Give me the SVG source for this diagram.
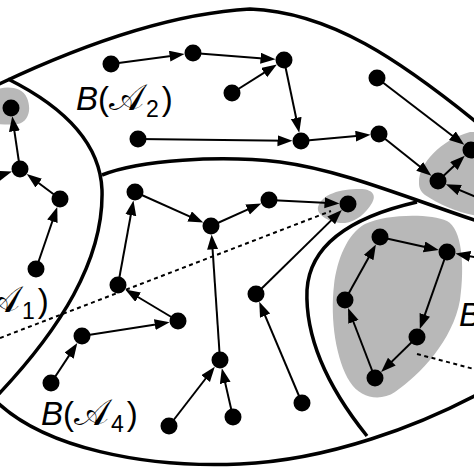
<svg xmlns="http://www.w3.org/2000/svg" width="474" height="474" viewBox="0 0 474 474">
<defs>
<marker id="ah" markerUnits="userSpaceOnUse" markerWidth="16" markerHeight="12" refX="9" refY="5.5" orient="auto">
<path d="M0,0 L15,5.5 L0,11 Z" fill="#000"/>
</marker>
<style>
.edge{stroke:#000;stroke-width:2;fill:none;marker-end:url(#ah)}
.bnd{stroke:#000;stroke-width:3.5;fill:none}
.dot{stroke:#000;stroke-width:2;fill:none;stroke-dasharray:4,3.5}
.blob{fill:#b8b8b8;stroke:none}
.node{fill:#000}
.lbl{font-family:"Liberation Sans",Arial,sans-serif;font-size:33px;fill:#000}
.it{font-style:italic}
.cal{font-family:"DejaVu Sans","Noto Sans",sans-serif;font-style:normal;font-size:37px}
.sub{font-size:23px}
</style>
</defs>
<rect width="474" height="474" fill="#fff"/>
<g id="blobs">
<path class="blob" d="M-5,90 C5,86 22,86 27,98 C32,110 28,122 18,124 C10,125 0,124 -5,124 Z"/>
<path class="blob" d="M318,207 C322,194 340,189 360,189 C372,189 377,195 372,203 C366,213 356,222 345,223 C333,224 316,216 318,207 Z"/>
<path class="blob" d="M419,183 C418,165 440,140 470,132 L480,132 L480,216 C460,214 440,205 425,195 C420,191 419,187 419,183 Z"/>
<path class="blob" d="M365,224 C385,214 430,213 447,221 C462,229 465,265 460,300 C453,340 420,375 395,392 C380,402 360,398 350,382 C336,360 330,320 334,285 C337,260 347,234 365,224 Z"/>
</g>
<g id="regions">
<path class="bnd" d="M-5,86 C60,55 160,14 250,9 C330,12 400,60 480,125"/>
<path class="bnd" d="M8,79 C60,105 100,140 102,190 C104,260 60,330 -5,398"/>
<path class="bnd" d="M-10,395 C40,450 150,468 240,464 C330,460 420,425 480,393"/>
<path class="bnd" d="M102,175 C140,160 220,155 280,162 C340,170 400,195 480,222"/>
<path class="bnd" d="M417,202 C360,215 310,240 307,290 C305,340 330,390 367,436"/>
</g>
<g id="dotted">
<line class="dot" x1="0" y1="338" x2="331" y2="211"/>
<line class="dot" x1="417" y1="354" x2="474" y2="369"/>
</g>
<g id="connectors">
<line class="edge" x1="111" y1="64" x2="178.6" y2="54.9"/>
<line class="edge" x1="193" y1="53" x2="269.5" y2="58.9"/>
<line class="edge" x1="232" y1="93" x2="271.8" y2="67.8"/>
<line class="edge" x1="284" y1="60" x2="298.0" y2="126.8"/>
<line class="edge" x1="138" y1="139" x2="286.5" y2="140.8"/>
<line class="edge" x1="301" y1="141" x2="364.6" y2="135.3"/>
<line class="edge" x1="379" y1="134" x2="426.7" y2="172.0"/>
<line class="edge" x1="377" y1="78" x2="459.5" y2="141.2"/>
<line class="edge" x1="438" y1="181" x2="460.4" y2="159.9"/>
<line class="edge" x1="500" y1="207" x2="451.4" y2="186.6"/>
<line class="edge" x1="500" y1="262" x2="461.3" y2="254.7"/>
<line class="edge" x1="20" y1="169" x2="13.1" y2="122.3"/>
<line class="edge" x1="-15" y1="180" x2="6.2" y2="173.3"/>
<line class="edge" x1="60" y1="199" x2="31.6" y2="177.7"/>
<line class="edge" x1="36" y1="269" x2="55.3" y2="212.7"/>
<line class="edge" x1="135" y1="192" x2="197.8" y2="220.1"/>
<line class="edge" x1="211" y1="226" x2="255.8" y2="205.9"/>
<line class="edge" x1="269" y1="200" x2="333.5" y2="203.3"/>
<line class="edge" x1="118" y1="285" x2="132.4" y2="206.3"/>
<line class="edge" x1="178" y1="321" x2="130.4" y2="292.5"/>
<line class="edge" x1="82" y1="336" x2="163.7" y2="323.2"/>
<line class="edge" x1="51" y1="383" x2="74.0" y2="348.1"/>
<line class="edge" x1="220" y1="360" x2="212.0" y2="240.5"/>
<line class="edge" x1="169" y1="426" x2="211.1" y2="371.5"/>
<line class="edge" x1="233" y1="417" x2="223.2" y2="374.1"/>
<line class="edge" x1="256" y1="294" x2="337.6" y2="214.1"/>
<line class="edge" x1="302" y1="403" x2="261.6" y2="307.4"/>
<line class="edge" x1="380" y1="237" x2="432.9" y2="248.8"/>
<line class="edge" x1="447" y1="252" x2="421.8" y2="323.3"/>
<line class="edge" x1="417" y1="337" x2="385.4" y2="367.9"/>
<line class="edge" x1="375" y1="378" x2="350.2" y2="313.5"/>
<line class="edge" x1="345" y1="300" x2="373.0" y2="249.7"/>
</g>
<g id="nodes">
<circle id="n1" class="node" cx="111" cy="64" r="8.5"/>
<circle id="n2" class="node" cx="193" cy="53" r="8.5"/>
<circle id="n3" class="node" cx="232" cy="93" r="8.5"/>
<circle id="n4" class="node" cx="284" cy="60" r="8.5"/>
<circle id="n5" class="node" cx="138" cy="139" r="8.5"/>
<circle id="n6" class="node" cx="301" cy="141" r="8.5"/>
<circle id="n7" class="node" cx="379" cy="134" r="8.5"/>
<circle id="n8" class="node" cx="377" cy="78" r="8.5"/>
<circle id="n9" class="node" cx="471" cy="150" r="8.5"/>
<circle id="n10" class="node" cx="438" cy="181" r="8.5"/>
<circle id="n11" class="node" cx="11" cy="108" r="8.5"/>
<circle id="n12" class="node" cx="20" cy="169" r="8.5"/>
<circle id="n13" class="node" cx="60" cy="199" r="8.5"/>
<circle id="n14" class="node" cx="36" cy="269" r="8.5"/>
<circle id="n15" class="node" cx="135" cy="192" r="8.5"/>
<circle id="n16" class="node" cx="211" cy="226" r="8.5"/>
<circle id="n17" class="node" cx="269" cy="200" r="8.5"/>
<circle id="n18" class="node" cx="348" cy="204" r="8.5"/>
<circle id="n19" class="node" cx="118" cy="285" r="8.5"/>
<circle id="n20" class="node" cx="178" cy="321" r="8.5"/>
<circle id="n21" class="node" cx="82" cy="336" r="8.5"/>
<circle id="n22" class="node" cx="51" cy="383" r="8.5"/>
<circle id="n23" class="node" cx="220" cy="360" r="8.5"/>
<circle id="n24" class="node" cx="169" cy="426" r="8.5"/>
<circle id="n25" class="node" cx="233" cy="417" r="8.5"/>
<circle id="n26" class="node" cx="256" cy="294" r="8.5"/>
<circle id="n27" class="node" cx="302" cy="403" r="8.5"/>
<circle id="n28" class="node" cx="380" cy="237" r="8.5"/>
<circle id="n29" class="node" cx="447" cy="252" r="8.5"/>
<circle id="n30" class="node" cx="345" cy="300" r="8.5"/>
<circle id="n31" class="node" cx="417" cy="337" r="8.5"/>
<circle id="n32" class="node" cx="375" cy="378" r="8.5"/>
</g>
<g id="labels">
<text class="lbl" x="76" y="110"><tspan class="it">B</tspan>(<tspan class="cal">𝒜</tspan><tspan class="sub" dx="2" dy="7">2</tspan><tspan dx="3" dy="-7">)</tspan></text>
<text class="lbl" x="41" y="425"><tspan class="it">B</tspan>(<tspan class="cal">𝒜</tspan><tspan class="sub" dx="2" dy="7">4</tspan><tspan dx="3" dy="-7">)</tspan></text>
<text class="lbl" x="-15" y="312"><tspan class="cal">𝒜</tspan><tspan class="sub" dx="2" dy="7">1</tspan><tspan dx="3" dy="-7">)</tspan></text>
<text class="lbl it" x="459" y="326" font-size="36">B</text>
</g>
</svg>
